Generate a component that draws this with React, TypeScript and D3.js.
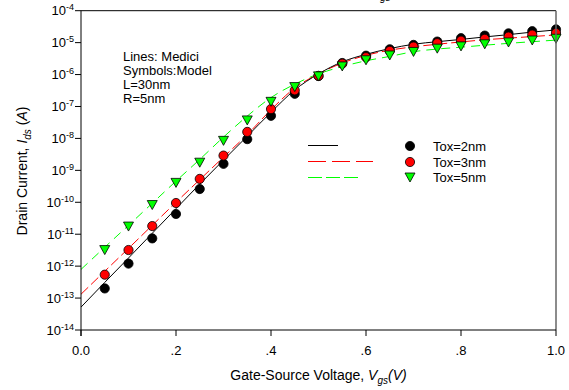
import React from "react";
import * as d3 from "d3";

const vgs = [0.05, 0.1, 0.15, 0.2, 0.25, 0.3, 0.35, 0.4, 0.45, 0.5, 0.55, 0.6, 0.65, 0.7, 0.75, 0.8, 0.85, 0.9, 0.95, 1.0];
const model2nm = [2.0e-13, 1.2e-12, 7.4e-12, 4.3e-11, 2.6e-10, 1.6e-9, 9.5e-9, 5.1e-8, 2.5e-7, 9.0e-7, 2.3e-6, 3.9e-6, 6.2e-6, 8.5e-6, 1.08e-5, 1.38e-5, 1.66e-5, 1.95e-5, 2.28e-5, 2.6e-5];
const model3nm = [5.4e-13, 3.2e-12, 1.8e-11, 9.5e-11, 5.4e-10, 2.9e-9, 1.6e-8, 8.3e-8, 3.2e-7, 9.1e-7, 2.2e-6, 3.5e-6, 5.5e-6, 7.5e-6, 9.6e-6, 1.15e-5, 1.31e-5, 1.54e-5, 1.78e-5, 2.0e-5];
const model5nm = [3.3e-12, 1.8e-11, 8.5e-11, 4.2e-10, 1.8e-9, 8.7e-9, 3.8e-8, 1.45e-7, 4.2e-7, 9.1e-7, 1.86e-6, 2.9e-6, 4.1e-6, 5.3e-6, 6.7e-6, 7.9e-6, 9.2e-6, 1.05e-5, 1.21e-5, 1.37e-5];

const vLine = [0, 0.05, 0.1, 0.15, 0.2, 0.25, 0.3, 0.35, 0.4, 0.45, 0.5, 0.55, 0.6, 0.65, 0.7, 0.75, 0.8, 0.85, 0.9, 0.95, 1.0];
const medici2nm = [5.2e-14, 3.1e-13, 1.8e-12, 1.07e-11, 6.3e-11, 3.7e-10, 2.1e-9, 1.17e-8, 6.6e-8, 3.3e-7, 1.05e-6, 2.5e-6, 4.3e-6, 6.5e-6, 8.9e-6, 1.07e-5, 1.26e-5, 1.51e-5, 1.78e-5, 2.14e-5, 2.5e-5];
const medici3nm = [1.32e-13, 6.9e-13, 3.6e-12, 1.9e-11, 1.0e-10, 5.1e-10, 2.6e-9, 1.32e-8, 7.9e-8, 3.8e-7, 1.05e-6, 2.3e-6, 4.0e-6, 5.8e-6, 7.4e-6, 8.9e-6, 1.05e-5, 1.23e-5, 1.38e-5, 1.55e-5, 1.74e-5];
const medici5nm = [7.9e-13, 3.9e-12, 1.9e-11, 9.3e-11, 4.6e-10, 2.2e-9, 1.1e-8, 5.0e-8, 1.9e-7, 5.0e-7, 1.05e-6, 1.78e-6, 2.7e-6, 3.7e-6, 5.2e-6, 6.3e-6, 7.2e-6, 8.3e-6, 9.5e-6, 1.07e-5, 1.2e-5];

const xTicks = [0, 0.2, 0.4, 0.6, 0.8, 1.0];
const xTickLabels = ["0.0", ".2", ".4", ".6", ".8", "1.0"];
const yExponents = [-4, -5, -6, -7, -8, -9, -10, -11, -12, -13, -14];
const legendLabels = ["Tox=2nm", "Tox=3nm", "Tox=5nm"];
const noteLines = ["Lines: Medici", "Symbols:Model", "L=30nm", "R=5nm"];

const FONT = "Arial, 'Liberation Sans', sans-serif";

export default function App() {
  const W = 569, H = 390;
  const left = 81, right = 556, top = 10.7, bottom = 330;
  const x = d3.scaleLinear().domain([0, 1]).range([left, right]);
  const y = d3.scaleLog().domain([1e-14, 1e-4]).range([bottom, top]);

  const line = d3
    .line<[number, number]>()
    .x((d) => x(d[0]))
    .y((d) => y(d[1]))
    .curve(d3.curveMonotoneX);

  const lp = (vals: number[]) => line(vLine.map((v, i) => [v, vals[i]] as [number, number])) || "";
  const tri = (cx: number, cy: number) => `M${cx - 5},${cy - 4}L${cx + 5},${cy - 4}L${cx},${cy + 5}Z`;

  return (
    <div style={{ position: "absolute", left: 0, top: 0 }}>
      <svg width={W} height={H} style={{ display: "block", background: "#fff" }} fontFamily={FONT}>
        <rect x={0} y={0} width={W} height={H} fill="#fff" />
        {/* cut-off title, as in the reference */}
        <text x={370} y={-4} fontSize={14} fill="#000" fontStyle="italic">V</text>
        <text x={380} y={1} fontSize={10} fill="#000" fontStyle="italic">gs</text>

        <defs>
          <clipPath id="plotclip">
            <rect x={left} y={top} width={right - left} height={bottom - top} />
          </clipPath>
        </defs>

        {/* lines */}
        <g clipPath="url(#plotclip)" fill="none">
          <path d={lp(medici5nm)} stroke="#00ff00" strokeWidth={1} strokeDasharray="9,6" />
          <path d={lp(medici3nm)} stroke="#ff0000" strokeWidth={1} strokeDasharray="10,4" />
          <path d={lp(medici2nm)} stroke="#000" strokeWidth={1} />
        </g>

        {/* markers */}
        <g>
          {vgs.map((v, i) => (
            <circle key={"b" + i} cx={x(v)} cy={y(model2nm[i])} r={4.6} fill="#000" stroke="#000" strokeWidth={0.8} />
          ))}
          {vgs.map((v, i) => (
            <circle key={"r" + i} cx={x(v)} cy={y(model3nm[i])} r={4.6} fill="#ff0000" stroke="#000" strokeWidth={0.8} />
          ))}
          {vgs.map((v, i) => (
            <path key={"g" + i} d={tri(x(v), y(model5nm[i]))} fill="#00ff00" stroke="#000" strokeWidth={0.8} />
          ))}
        </g>

        {/* frame */}
        <line x1={left} x2={right} y1={top} y2={top} stroke="#000" strokeWidth={1} />
        <line x1={right} x2={right} y1={top} y2={bottom} stroke="#666" strokeWidth={1.5} />
        <line x1={left} x2={left} y1={top} y2={bottom + 6} stroke="#000" strokeWidth={1} />
        <line x1={left} x2={right} y1={bottom} y2={bottom} stroke="#000" strokeWidth={1} />

        {/* y ticks */}
        {yExponents.map((e) => {
          const yy = y(Math.pow(10, e));
          return (
            <g key={"y" + e}>
              <line x1={left - 6} x2={left} y1={yy} y2={yy} stroke="#000" />
              <text x={74} y={yy + 4.5} fontSize={13} textAnchor="end" fill="#000">
                10<tspan fontSize={9} dy={-5}>{"-" + Math.abs(e)}</tspan>
              </text>
            </g>
          );
        })}

        {/* x ticks */}
        {xTicks.map((t, i) => (
          <g key={"x" + i}>
            <line x1={x(t)} x2={x(t)} y1={bottom} y2={bottom + 6} stroke="#000" />
            <text x={x(t)} y={355} fontSize={13} textAnchor="middle" fill="#000">
              {xTickLabels[i]}
            </text>
          </g>
        ))}

        {/* axis titles */}
        <text x={318.5} y={380} fontSize={14} textAnchor="middle" fill="#000">
          Gate-Source Voltage, <tspan fontStyle="italic">V</tspan>
          <tspan fontSize={10} dy={4} fontStyle="italic">gs</tspan>
          <tspan dy={-4} fontStyle="italic">(V)</tspan>
        </text>
        <text transform="translate(27,171) rotate(-90)" fontSize={14} textAnchor="middle" fill="#000">
          Drain Current, <tspan fontStyle="italic">I</tspan>
          <tspan fontSize={10} dy={4} fontStyle="italic">ds</tspan>
          <tspan dy={-4}> (</tspan>
          <tspan fontStyle="italic">A</tspan>)
        </text>

        {/* notes */}
        {noteLines.map((s, i) => (
          <text key={"n" + i} x={123} y={61 + i * 14} fontSize={13} fill="#000">
            {s}
          </text>
        ))}

        {/* legend */}
        <line x1={308} x2={338} y1={145.5} y2={145.5} stroke="#000" />
        <line x1={308} x2={373} y1={161.5} y2={161.5} stroke="#ff0000" strokeDasharray="18,6" />
        <line x1={308} x2={358} y1={177.5} y2={177.5} stroke="#00ff00" strokeDasharray="14,4" />
        <circle cx={410} cy={146} r={4.6} fill="#000" stroke="#000" strokeWidth={0.8} />
        <circle cx={410} cy={162} r={4.6} fill="#ff0000" stroke="#000" strokeWidth={0.8} />
        <path d={tri(410, 177)} fill="#00ff00" stroke="#000" strokeWidth={0.8} />
        {legendLabels.map((s, i) => (
          <text key={"l" + i} x={433} y={[150.5, 166.5, 181.5][i]} fontSize={13} fill="#000">
            {s}
          </text>
        ))}
      </svg>
    </div>
  );
}
